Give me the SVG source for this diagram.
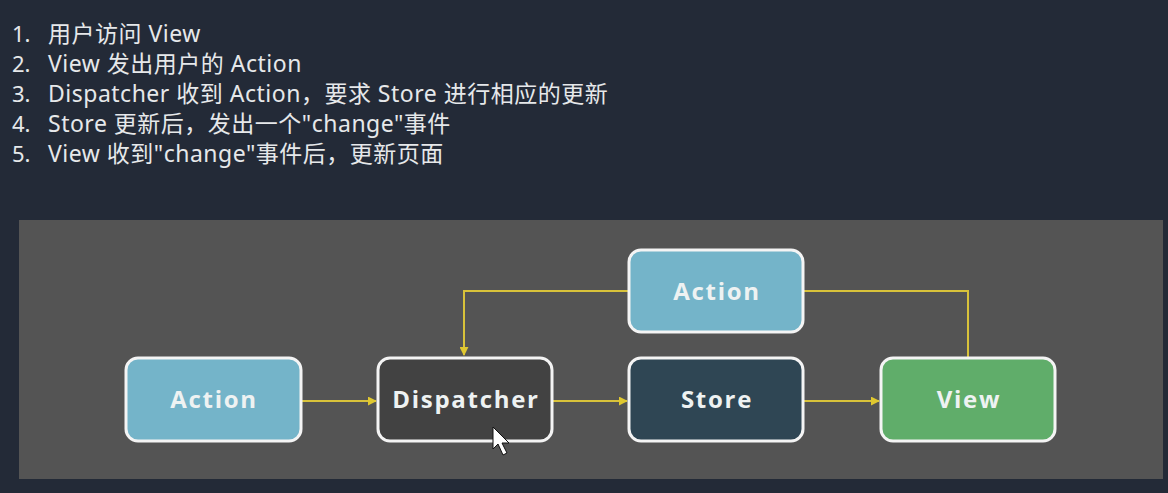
<svg xmlns="http://www.w3.org/2000/svg" width="1168" height="493" viewBox="0 0 1168 493">
<defs>
<style>
.list{font-family:"Noto Sans","Noto Sans CJK SC",sans-serif;font-size:23px;letter-spacing:0.5px;fill:#e6e8ea;}
.num{font-family:"Noto Sans","Noto Sans CJK SC",sans-serif;font-size:22px;fill:#e6e8ea;}
.box{stroke:#f4f4f4;stroke-width:3;}
.lbl{font-family:"Open Sans","Noto Sans",sans-serif;font-weight:bold;font-size:24px;letter-spacing:1.7px;fill:#eef2f2;text-anchor:middle;}
.conn{fill:none;stroke:#d8c23a;stroke-width:2;}
</style>
<marker id="arr" viewBox="0 0 10 10" refX="9" refY="5" markerWidth="9" markerHeight="9" markerUnits="userSpaceOnUse" orient="auto">
<path d="M0,0 L10,5 L0,10 z" fill="#e0c830"/>
</marker>
</defs>
<rect x="0" y="0" width="1168" height="493" fill="#232a37"/>
<g id="list">
<text class="num" x="12" y="42">1.</text><text class="list" x="48" y="42">用户访问 View</text>
<text class="num" x="12" y="72">2.</text><text class="list" x="48" y="72">View 发出用户的 Action</text>
<text class="num" x="12" y="102">3.</text><text class="list" x="48" y="102">Dispatcher 收到 Action，要求 Store 进行相应的更新</text>
<text class="num" x="12" y="132">4.</text><text class="list" x="48" y="132">Store 更新后，发出一个"change"事件</text>
<text class="num" x="12" y="162">5.</text><text class="list" x="48" y="162">View 收到"change"事件后，更新页面</text>
</g>
<rect x="19" y="220" width="1144" height="259" fill="#545454"/>
<g id="connectors">
<line class="conn" x1="302" y1="401" x2="376" y2="401" marker-end="url(#arr)"/>
<line class="conn" x1="553" y1="401" x2="627" y2="401" marker-end="url(#arr)"/>
<line class="conn" x1="804" y1="401" x2="879" y2="401" marker-end="url(#arr)"/>
<polyline class="conn" points="628,291 464,291 464,355" marker-end="url(#arr)"/>
<polyline class="conn" points="804,291 968,291 968,357"/>
</g>
<g id="action-left">
<rect class="box" x="126" y="358" width="175" height="83" rx="12" fill="#74b4c9"/>
<text class="lbl" x="214" y="408">Action</text>
</g>
<g id="dispatcher">
<rect class="box" x="378" y="358" width="174" height="83" rx="12" fill="#424242"/>
<text class="lbl" x="466" y="408">Dispatcher</text>
</g>
<g id="store">
<rect class="box" x="629" y="358" width="174" height="83" rx="12" fill="#2f4654"/>
<text class="lbl" x="717" y="408">Store</text>
</g>
<g id="view">
<rect class="box" x="881" y="358" width="174" height="83" rx="12" fill="#60ad6a"/>
<text class="lbl" x="969" y="408">View</text>
</g>
<g id="action-top">
<rect class="box" x="629" y="250" width="174" height="82" rx="12" fill="#74b4c9"/>
<text class="lbl" x="717" y="300">Action</text>
</g>
<path d="M493,427 L493,449 L498,444 L503,455 L507,453 L502,443 L509,443 z" fill="#ffffff" stroke="#111111" stroke-width="1"/>
</svg>
